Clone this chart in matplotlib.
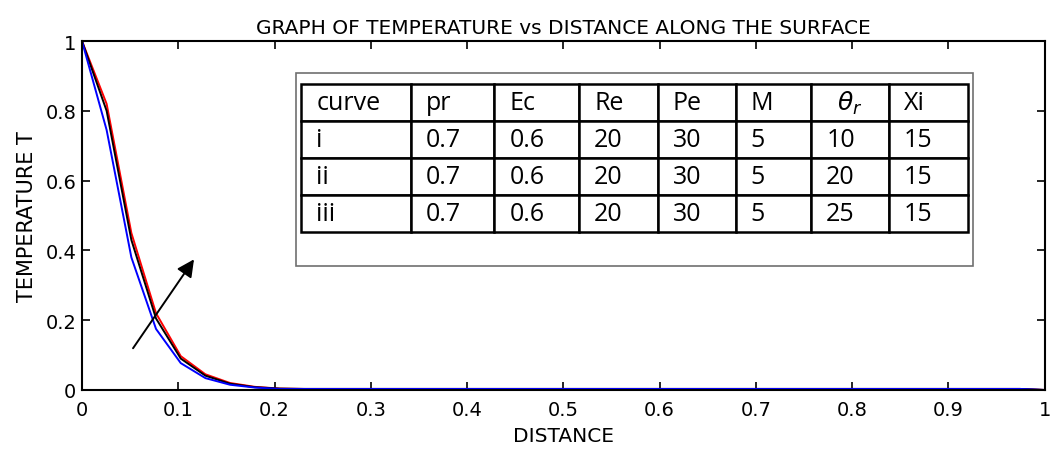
import numpy as np
import matplotlib
matplotlib.use("Agg")
import matplotlib.pyplot as plt
from matplotlib.patches import Rectangle

# sample points along the surface
x = [0, 0.0256, 0.0513, 0.0769, 0.1026, 0.1282, 0.1538, 0.1795, 0.2051, 0.2308, 0.9744, 1.0]
# curves i, ii, iii
t_red = [1, 0.82, 0.45, 0.22, 0.097, 0.045, 0.020, 0.009, 0.004, 0.003, 0.003, 0]
t_black = [1, 0.80, 0.43, 0.205, 0.090, 0.041, 0.018, 0.008, 0.004, 0.003, 0.003, 0]
t_blue = [1, 0.745, 0.38, 0.175, 0.077, 0.034, 0.015, 0.007, 0.003, 0.003, 0.003, 0]

col_labels = ["curve", "pr", "Ec", "Re", "Pe", "M", r"$\theta_r$", "Xi"]
rows = [["i", "0.7", "0.6", "20", "30", "5", "10", "15"],
        ["ii", "0.7", "0.6", "20", "30", "5", "20", "15"],
        ["iii", "0.7", "0.6", "20", "30", "5", "25", "15"]]
col_px = [110, 84, 85, 79, 78, 76, 78, 79]

plt.rcParams['font.family'] = ['DejaVu Sans']

fig = plt.figure(figsize=(10.51, 4.52), dpi=100)
ax = fig.add_axes([0.078, 0.135, 0.916, 0.772])

ax.plot(x, t_red, color='red', lw=1.4)
ax.plot(x, t_black, color='black', lw=1.4)
ax.plot(x, t_blue, color='blue', lw=1.4)

ax.set_xlim(0, 1)
ax.set_ylim(0, 1)
ax.set_xticks(np.arange(0, 1.01, 0.1))
ax.set_yticks(np.arange(0, 1.01, 0.2))
ax.set_xticklabels(['0', '0.1', '0.2', '0.3', '0.4', '0.5', '0.6', '0.7', '0.8', '0.9', '1'])
ax.set_yticklabels(['0', '0.2', '0.4', '0.6', '0.8', '1'])
ax.tick_params(direction='in', top=True, right=True, length=6, width=1.2, labelsize=14)
ax.tick_params(axis='x', pad=7)
ax.tick_params(axis='y', pad=4)
for s in ax.spines.values():
    s.set_linewidth(1.5)

ax.set_title("GRAPH OF TEMPERATURE vs DISTANCE ALONG THE SURFACE", fontsize=14.5, pad=6)
ax.set_xlabel("DISTANCE", fontsize=14.5, labelpad=5)
ax.set_ylabel("TEMPERATURE T", fontsize=15, labelpad=6)

ax.annotate("", xy=(0.118, 0.381), xytext=(0.0514, 0.113),
            arrowprops=dict(arrowstyle='-|>', color='black', lw=1.4, mutation_scale=26))

# outer box around the table
ax.add_patch(Rectangle((0.2226, 0.355), 0.7029, 0.553, transform=ax.transAxes,
                       facecolor='white', edgecolor='#707070', lw=1.2, zorder=3))

tl, tr, tb, tt = 0.2277, 0.920, 0.453, 0.877
widths = [w / sum(col_px) * (tr - tl) for w in col_px]
tab = ax.table(cellText=rows, colLabels=col_labels, colWidths=widths,
               cellLoc='left', colLoc='left', bbox=[tl, tb, tr - tl, tt - tb], zorder=4)
tab.auto_set_font_size(False)
for (r, c), cell in tab.get_celld().items():
    cell.set_linewidth(1.8)
    cell.set_edgecolor('black')
    cell.PAD = 15.0 / col_px[c]
    cell.get_text().set_fontfamily('Open Sans')
    cell.get_text().set_fontsize(18)
    if c == 6 and r == 0:
        cell.get_text().set_horizontalalignment('center')
        cell._loc = 'center'

fig.savefig("out.png", dpi=100)
